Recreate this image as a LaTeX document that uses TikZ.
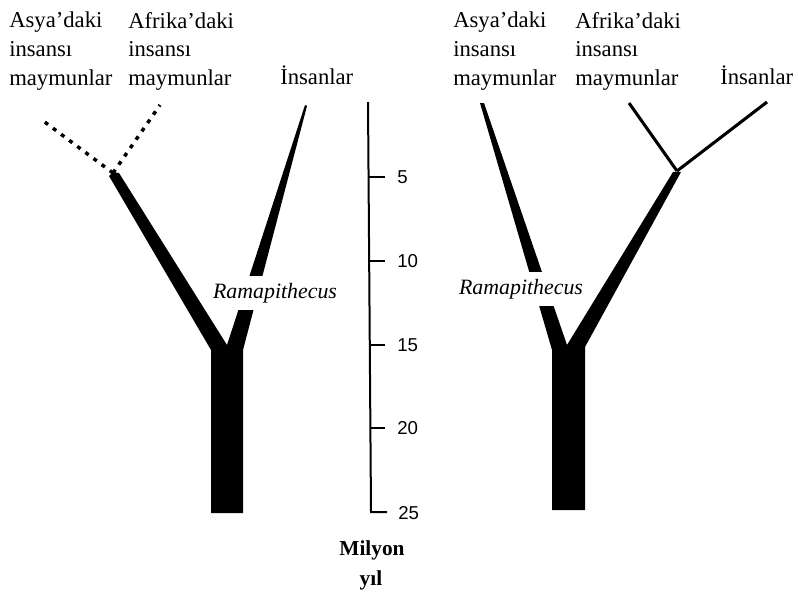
\documentclass[tikz,border=0pt]{standalone}
\usepackage{fontspec}
\setmainfont{Liberation Serif}
\newfontfamily\ticksf{Liberation Sans}
\begin{document}
\begin{tikzpicture}[x=0.75pt,y=-0.75pt,
  lbl/.style={font=\fontsize{17}{21.4}\selectfont, inner sep=0pt, align=left},
  axisline/.style={line width=1.5pt},
  ticklbl/.style={font=\ticksf\fontsize{14}{16}\selectfont, anchor=west, inner sep=0pt},
  branch/.style={fill=black},
  thinbranch/.style={line width=2.3pt},
  dotbranch/.style={line width=2.6pt, dash pattern=on 3pt off 4.6pt},
  ramalbl/.style={font=\fontsize{16.4}{18}\selectfont\itshape, fill=white, inner xsep=1pt, inner ysep=5.2pt},
  unitlbl/.style={font=\fontsize{16}{18}\selectfont\bfseries, inner sep=0pt}
]
\useasboundingbox (0,0) rectangle (798,596);

% ---------- left tree ----------
\fill[branch] (211,513) -- (211,350) -- (109,176) -- (113,172) -- (119,173) -- (227,345)
  -- (305,105) -- (307,106) -- (243,350) -- (243,513) -- cycle;
\coordinate (lfork) at (113,173);
\coordinate (lasia) at (42,120);
\coordinate (lafr) at (160,105);
\draw[dotbranch] (lfork) -- (lasia);
\draw[dotbranch] (lfork) -- (lafr);
\node[ramalbl] (lrama) at (275,293) {Ramapithecus};

% ---------- right tree ----------
\fill[branch] (552,510) -- (552,350) -- (480,103) -- (484,103) -- (567,345)
  -- (673,172) -- (681,172) -- (585,347) -- (585,510) -- cycle;
\coordinate (rfork) at (677,171);
\coordinate (rafr) at (629,103);
\coordinate (rhum) at (767,102);
\draw[thinbranch] (rfork) -- (rafr);
\draw[thinbranch] (rfork) -- (rhum);
\node[ramalbl] (rrama) at (521,289) {Ramapithecus};

% ---------- labels ----------
\node[lbl, anchor=north west] (la) at (9,12) {Asya’daki\\insansı\\maymunlar};
\node[lbl, anchor=north west] (lf) at (128,12) {Afrika’daki\\insansı\\maymunlar};
\node[lbl, anchor=base west] (lh) at (280,84) {İnsanlar};
\node[lbl, anchor=north west] (ra) at (453,12) {Asya’daki\\insansı\\maymunlar};
\node[lbl, anchor=north west] (rf) at (575,12) {Afrika’daki\\insansı\\maymunlar};
\node[lbl, anchor=base west] (rh) at (720,84) {İnsanlar};

% ---------- time axis ----------
\coordinate (atop) at (368,102);
\coordinate (abot) at (371,512);
\coordinate (t25) at (387,512);
\draw[axisline] (atop) -- (abot) -- (t25);
\foreach \v/\y/\x in {5/177/368.6, 10/261/369.2, 15/345/369.8, 20/428/370.4}{
  \coordinate (s\v) at (\x,\y);
  \coordinate (e\v) at (385,\y);
  \draw[axisline] (s\v) -- (e\v);
  \node[ticklbl] (n\v) at (397,\y) {\v};
}
\node[ticklbl] (n25) at (398,513) {25};
\node[unitlbl] (u1) at (372,550) {Milyon};
\node[unitlbl] (u2) at (371,580) {yıl};
\end{tikzpicture}
\end{document}
